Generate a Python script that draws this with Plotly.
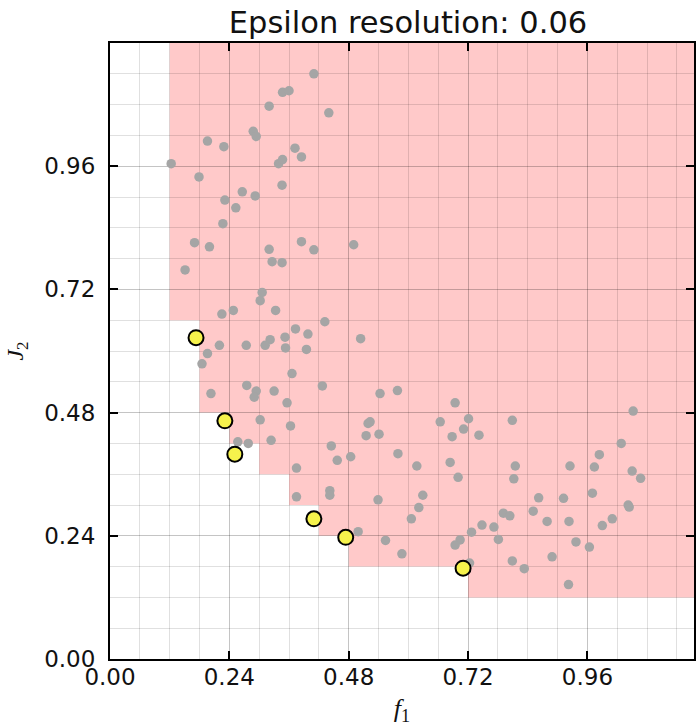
import numpy as np
import plotly.graph_objects as go

EPS = 0.06

# Non-dominated (archive) solutions
pareto_f1 = [0.173, 0.231, 0.251, 0.410, 0.474, 0.710]
pareto_j2 = [0.626, 0.464, 0.399, 0.273, 0.237, 0.177]

# All other evaluated solutions
gray_f1 = [
    0.410, 0.347, 0.360, 0.320, 0.440, 0.288, 0.294, 0.196, 0.229, 0.123,
    0.372, 0.385, 0.339, 0.347, 0.179, 0.346, 0.266, 0.292, 0.231, 0.253,
    0.227, 0.170, 0.200, 0.385, 0.410, 0.490, 0.320, 0.326, 0.346, 0.151,
    0.306, 0.302, 0.225, 0.248, 0.333, 0.432, 0.373, 0.398, 0.352, 0.322,
    0.312, 0.274, 0.220, 0.353, 0.395, 0.504, 0.196, 0.185, 0.366, 0.275,
    0.427, 0.294, 0.290, 0.330, 0.203, 0.356, 0.543, 0.578, 0.302, 0.363,
    0.519, 0.523, 0.515, 0.541, 0.257, 0.278, 0.324, 0.445, 0.457, 0.484,
    0.579, 0.375, 0.442, 0.442, 0.375, 0.539, 0.499, 0.554, 0.587,
    0.694, 0.664, 0.721, 0.711, 0.688, 0.742, 0.809, 0.617, 0.684, 0.700,
    0.815, 0.812, 1.052, 1.028, 0.984, 0.925, 0.974, 1.050, 1.067, 0.629,
    0.621, 0.606, 0.862, 0.912, 0.970, 0.851, 0.791, 0.804, 0.772, 0.748,
    0.727, 0.781, 0.879, 0.923, 1.042, 1.044, 1.010, 0.990, 0.704, 0.694,
    0.937, 0.964, 0.889, 0.809, 0.833, 0.723, 0.922,
]
gray_j2 = [
    1.140, 1.104, 1.107, 1.077, 1.064, 1.028, 1.018, 1.009, 0.998, 0.965,
    0.995, 0.978, 0.965, 0.973, 0.939, 0.923, 0.910, 0.902, 0.894, 0.879,
    0.848, 0.811, 0.803, 0.813, 0.797, 0.807, 0.798, 0.774, 0.772, 0.758,
    0.714, 0.698, 0.672, 0.679, 0.679, 0.657, 0.643, 0.633, 0.627, 0.622,
    0.611, 0.611, 0.611, 0.606, 0.603, 0.624, 0.595, 0.575, 0.556, 0.533,
    0.532, 0.522, 0.510, 0.522, 0.517, 0.499, 0.517, 0.523, 0.466, 0.454,
    0.459, 0.462, 0.435, 0.438, 0.423, 0.420, 0.426, 0.415, 0.387, 0.394,
    0.400, 0.372, 0.328, 0.319, 0.316, 0.310, 0.248, 0.231, 0.205,
    0.499, 0.462, 0.468, 0.448, 0.433, 0.436, 0.465, 0.376, 0.383, 0.354,
    0.376, 0.351, 0.483, 0.420, 0.398, 0.376, 0.374, 0.366, 0.352, 0.319,
    0.295, 0.273, 0.314, 0.313, 0.323, 0.288, 0.284, 0.279, 0.257, 0.261,
    0.247, 0.233, 0.268, 0.268, 0.300, 0.296, 0.273, 0.260, 0.232, 0.222,
    0.228, 0.218, 0.199, 0.191, 0.176, 0.187, 0.145,
]

tick_vals = [0.0, 0.24, 0.48, 0.72, 0.96]
title_text = "Epsilon resolution: 0.06"
AX_MAX = 1.2

# ---- epsilon-dominated region built from the archive's epsilon boxes ----
corners = []
for fx, fy in zip(pareto_f1, pareto_j2):
    lx = round(np.floor(fx / EPS + 1e-9) * EPS, 6)
    ly = round(np.floor(fy / EPS + 1e-9) * EPS, 6)
    corners.append((lx, round(ly + EPS, 6)))
    corners.append((round(lx + EPS, 6), ly))
stair = []
for c in corners:
    if not any((d[0] <= c[0] and d[1] <= c[1]) and d != c for d in corners):
        if c not in stair:
            stair.append(c)
stair.sort()
vx, vy = [stair[0][0]], [AX_MAX]
prev_y = None
for (cx, cy) in stair:
    if prev_y is not None:
        vx.append(cx); vy.append(prev_y)
    vx.append(cx); vy.append(cy)
    prev_y = cy
vx += [AX_MAX, AX_MAX]
vy += [prev_y, AX_MAX]
path = "M " + " L ".join(f"{a},{b}" for a, b in zip(vx, vy)) + " Z"

fig = go.Figure()
fig.add_shape(type="path", path=path, xref="x", yref="y", layer="below",
              fillcolor="#ffc9c9", line=dict(width=0))
fig.add_trace(go.Scatter(
    x=gray_f1, y=gray_j2, mode="markers",
    marker=dict(size=9.5, color="#a5a5a5", line=dict(width=0)),
    showlegend=False))
fig.add_trace(go.Scatter(
    x=pareto_f1, y=pareto_j2, mode="markers",
    marker=dict(size=15, color="#f6f24c", line=dict(width=2, color="black")),
    showlegend=False))

W, H = 696, 726
L, T, B = 110, 43, 67
plot_w = W - L
x_max = plot_w / 499.0

grid_col = "rgba(0,0,0,0.12)"
axis_common = dict(
    showline=True, linewidth=2, linecolor="black", mirror="ticks",
    ticks="inside", ticklen=8, tickwidth=1.5, tickcolor="black",
    tickvals=tick_vals, tickformat=".2f",
    tickfont=dict(family="DejaVu Sans", size=23, color="#111"),
    showgrid=True, gridcolor=grid_col, gridwidth=1.4,
    minor=dict(dtick=EPS, tick0=0, showgrid=True, gridcolor=grid_col,
               gridwidth=1.4, ticks=""),
    zeroline=False, fixedrange=True,
)

fig.update_layout(
    width=W, height=H,
    margin=dict(l=L, r=0, t=T, b=B, pad=0),
    paper_bgcolor="white", plot_bgcolor="white",
    title=dict(text=title_text, x=(409 - L) / plot_w, xref="paper",
               xanchor="center", y=1 - 22 / H, yref="container",
               yanchor="middle",
               font=dict(family="DejaVu Sans", size=30.5, color="#111")),
    xaxis=dict(range=[0, x_max], ticklabelstandoff=-4,
               title=dict(text="<i>f</i><sub>1</sub>", standoff=16,
                          font=dict(family="Liberation Serif", size=26,
                                    color="#111")),
               **axis_common),
    yaxis=dict(range=[0, AX_MAX], ticklabelstandoff=8,
               title=dict(text="<i>J</i><sub>2</sub>", standoff=14,
                          font=dict(family="Liberation Serif", size=24,
                                    color="#111")),
               **axis_common),
    showlegend=False,
)

fig.write_html("out.html")
